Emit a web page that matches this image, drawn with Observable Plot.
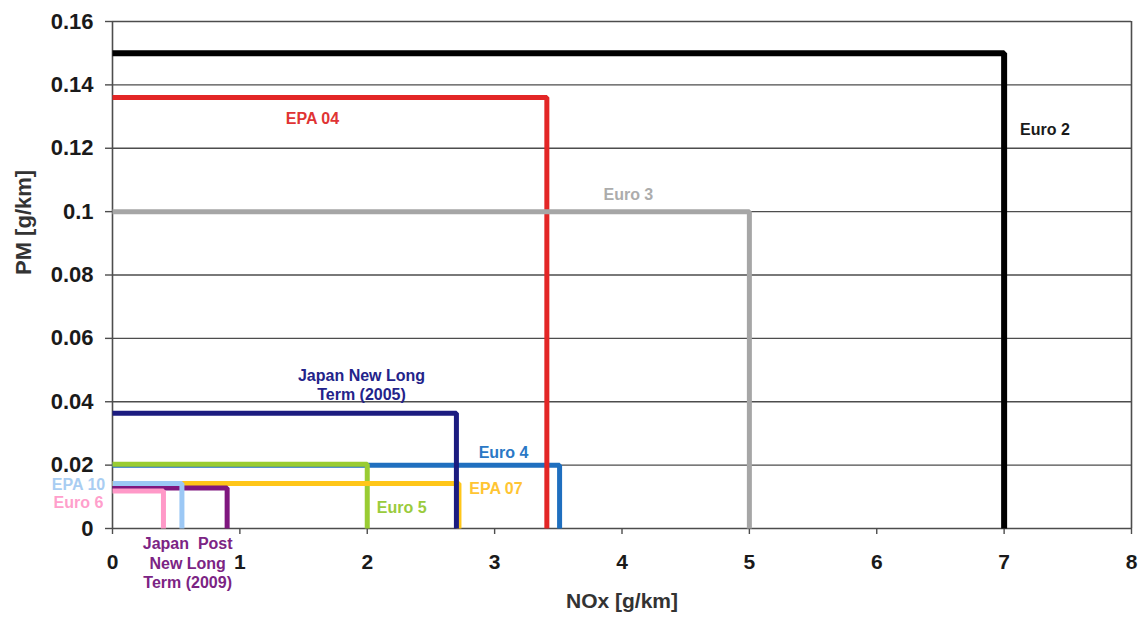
<!DOCTYPE html>
<html>
<head>
<meta charset="utf-8">
<script src="https://cdn.jsdelivr.net/npm/d3@7"></script>
<script src="https://cdn.jsdelivr.net/npm/@observablehq/plot@0.6"></script>
<style>
  html, body { margin: 0; padding: 0; background: #fff; }
  #chart svg { display: block; }
</style>
</head>
<body>
<div id="chart"></div>
<script>
// Standards (drawing order)
const names  = ["Euro 2", "Euro 4", "Euro 5", "EPA 07", "EPA 04", "Euro 3", "Japan NLT 2005", "Japan PNLT 2009", "EPA 10", "Euro 6"];
const noxVal = [7.0, 3.51, 2.0, 2.72, 3.41, 5.0, 2.70, 0.90, 0.545, 0.40];
const pmVal  = [0.150, 0.020, 0.0203, 0.0142, 0.136, 0.100, 0.0364, 0.0128, 0.0142, 0.0118];
const colors = ["#000000", "#1f6fbf", "#99cc33", "#ffc619", "#e32626", "#a6a6a6", "#1c1c80", "#7f177f", "#9cc8f5", "#ff99c8"];
const widths = [6, 5, 5, 5, 5, 5, 5, 5, 5, 5];

// Annotation labels
const labelText  = ["Euro 2", "EPA 04", "Euro 3", "Japan New Long\nTerm (2005)", "Euro 4", "EPA 07", "Euro 5", "EPA 10", "Euro 6", "Japan\u00a0 Post\nNew Long\nTerm (2009)"];
const labelX     = [7.32, 1.57, 4.05, 1.955, 3.07, 3.01, 2.27, -0.267, -0.267, 0.59];
const labelY     = [0.126, 0.1297, 0.1057, 0.0454, 0.0243, 0.0129, 0.0069, 0.0142, 0.0085, -0.0107];
const labelColor = ["#1a1a1a", "#e03434", "#acacac", "#23238a", "#2a78c6", "#ffc533", "#9acb3c", "#a9cdf2", "#ff9fcc", "#7c2484"];

// Axis ticks
const xTicks = [0, 1, 2, 3, 4, 5, 6, 7, 8];
const xTickLabels = ["0", "1", "2", "3", "4", "5", "6", "7", "8"];
const yTicks = [0, 0.02, 0.04, 0.06, 0.08, 0.1, 0.12, 0.14, 0.16];
const yTickLabels = ["0", "0.02", "0.04", "0.06", "0.08", "0.1", "0.12", "0.14", "0.16"];

const xTitle = "NOx [g/km]";
const yTitle = "PM [g/km]";

// Build step-shaped polylines for each standard
const series = names.map((n, i) => ({
  name: n, color: colors[i], width: widths[i],
  pts: [{x: 0, y: pmVal[i]}, {x: noxVal[i], y: pmVal[i]}, {x: noxVal[i], y: 0}]
}));
const labels = labelText.map((t, i) => ({t, x: labelX[i], y: labelY[i], c: labelColor[i]}));

const font = "'Liberation Sans', Arial, Helvetica, sans-serif";

const chart = Plot.plot({
  width: 1141,
  height: 619,
  marginLeft: 112,
  marginRight: 10,
  marginTop: 21,
  marginBottom: 91,
  style: {fontFamily: font, background: "#fff", overflow: "visible"},
  x: {domain: [0, 8]},
  y: {domain: [0, 0.16]},
  marks: [
    Plot.ruleY(yTicks, {stroke: "#4d4d4d", strokeWidth: 1.4}),
    Plot.ruleX([0, 8], {stroke: "#4d4d4d", strokeWidth: 1.6}),
    Plot.axisY({
      ticks: yTicks, tickFormat: (d, i) => yTickLabels[yTicks.indexOf(d)],
      tickSize: 7, tickPadding: 12, label: null,
      fontSize: 22, fontWeight: "bold", fill: "#1a1a1a", stroke: "#4d4d4d", strokeWidth: 1.4
    }),
    Plot.axisX({
      ticks: xTicks, tickFormat: d => xTickLabels[xTicks.indexOf(d)],
      tickSize: 6, tickPadding: 20, label: null,
      fontSize: 21, fontWeight: "bold", fill: "#1a1a1a", stroke: "#4d4d4d", strokeWidth: 1.4
    }),
    ...series.map(s => Plot.line(s.pts, {
      x: "x", y: "y", stroke: s.color, strokeWidth: s.width,
      strokeLinejoin: "miter", strokeLinecap: "butt"
    })),
    Plot.text(labels, {
      x: "x", y: "y", text: "t", fill: "c",
      fontSize: 16, fontWeight: "bold", lineHeight: 1.2
    }),
    Plot.text([yTitle], {
      frameAnchor: "left", dx: -89, rotate: -90,
      fontSize: 22, fontWeight: "bold", fill: "#333"
    }),
    Plot.text([xTitle], {
      frameAnchor: "bottom", dy: 79,
      fontSize: 21, fontWeight: "bold", fill: "#333"
    })
  ]
});
document.getElementById("chart").appendChild(chart);
</script>
</body>
</html>
